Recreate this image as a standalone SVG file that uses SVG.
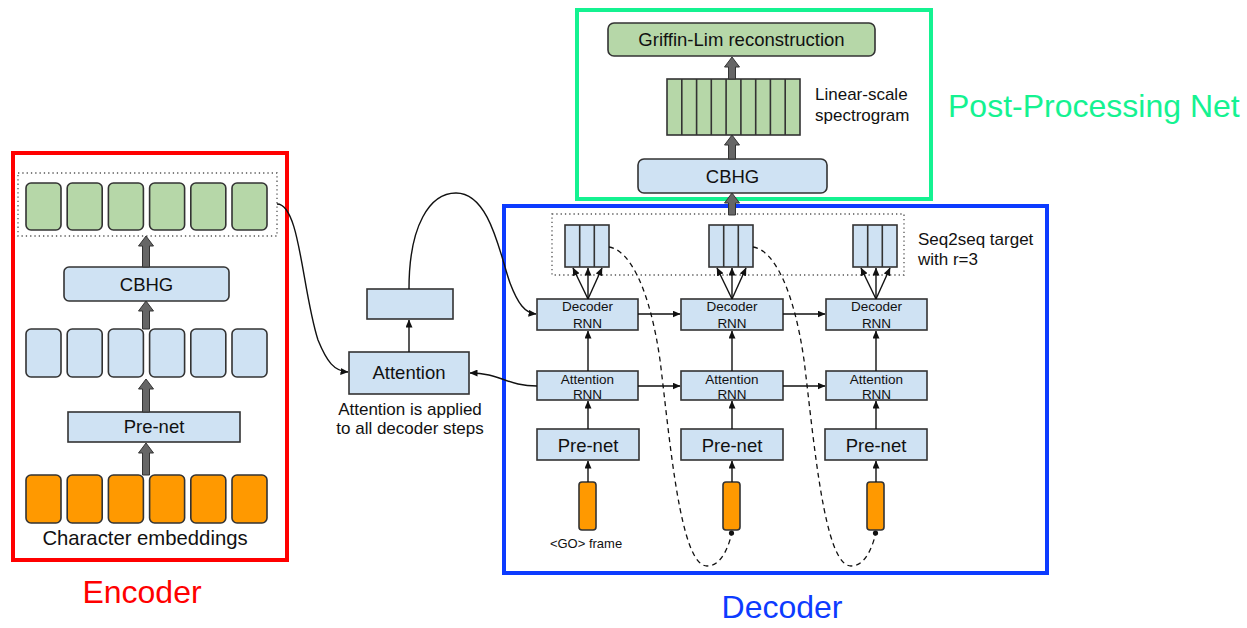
<svg xmlns="http://www.w3.org/2000/svg" width="1247" height="628" viewBox="0 0 1247 628">
<style>
text{font-family:"Liberation Sans",Arial,sans-serif;fill:#111}
.b{fill:#cfe2f3;stroke:#333;stroke-width:1.6}
.g{fill:#b6d7a8;stroke:#333;stroke-width:1.6}
.o{fill:#ff9900;stroke:#333;stroke-width:1.6}
.dot{fill:none;stroke:#555;stroke-width:1.3;stroke-dasharray:1.3 3}
.thick{fill:#666;stroke:#333;stroke-width:1}
.ln{fill:none;stroke:#111;stroke-width:1.4}
.la{fill:none;stroke:#111;stroke-width:1.4;marker-end:url(#ah)}
.dash{fill:none;stroke:#111;stroke-width:1.3;stroke-dasharray:5 4}
.c{text-anchor:middle}
.s13{font-size:13.5px}
.s17{font-size:17px}
.s18{font-size:18.5px}
.title{font-size:32px}
</style>
<defs>
<marker id="ah" markerWidth="8" markerHeight="7" refX="7.5" refY="3.5" orient="auto" markerUnits="userSpaceOnUse">
<path d="M0,0 L8,3.5 L0,7 z" fill="#111"/>
</marker>
</defs>
<rect width="1247" height="628" fill="#fff"/>

<!-- Encoder -->
<g id="encoder">
<rect x="13" y="153" width="274" height="407" fill="none" stroke="#ff0000" stroke-width="4"/>
<text x="142" y="603" class="c title" style="fill:#ff0000">Encoder</text>
</g>
<g id="enc-outputs">
<rect class="dot" x="18" y="173" width="259" height="63"/>
<rect class="g" x="26" y="183" width="35" height="47" rx="5"/>
<rect class="g" x="67.2" y="183" width="35" height="47" rx="5"/>
<rect class="g" x="108.4" y="183" width="35" height="47" rx="5"/>
<rect class="g" x="149.6" y="183" width="35" height="47" rx="5"/>
<rect class="g" x="190.8" y="183" width="35" height="47" rx="5"/>
<rect class="g" x="232" y="183" width="35" height="47" rx="5"/>
</g>
<g id="enc-cbhg">
<rect class="b" x="64" y="267" width="165" height="34" rx="5"/>
<text x="146.5" y="291" class="c s18">CBHG</text>
</g>
<g id="enc-hidden">
<rect class="b" x="26" y="329" width="35" height="48" rx="5"/>
<rect class="b" x="67.2" y="329" width="35" height="48" rx="5"/>
<rect class="b" x="108.4" y="329" width="35" height="48" rx="5"/>
<rect class="b" x="149.6" y="329" width="35" height="48" rx="5"/>
<rect class="b" x="190.8" y="329" width="35" height="48" rx="5"/>
<rect class="b" x="232" y="329" width="35" height="48" rx="5"/>
</g>
<g id="enc-prenet">
<rect class="b" x="68" y="412" width="172" height="30"/>
<text x="154" y="433" class="c s18">Pre-net</text>
</g>
<g id="enc-embeddings">
<rect class="o" x="26" y="475" width="35" height="48" rx="5"/>
<rect class="o" x="67.2" y="475" width="35" height="48" rx="5"/>
<rect class="o" x="108.4" y="475" width="35" height="48" rx="5"/>
<rect class="o" x="149.6" y="475" width="35" height="48" rx="5"/>
<rect class="o" x="190.8" y="475" width="35" height="48" rx="5"/>
<rect class="o" x="232" y="475" width="35" height="48" rx="5"/>
<text x="145" y="545" class="c" style="font-size:20.3px">Character embeddings</text>
</g>

<!-- Attention -->
<g id="attention">
<rect class="b" x="349" y="352" width="120" height="42"/>
<text x="409" y="379" class="c s18">Attention</text>
<text x="410" y="415" class="c s17">Attention is applied</text>
<text x="410" y="434" class="c s17">to all decoder steps</text>
</g>
<g id="context">
<rect class="b" x="367" y="289" width="86" height="30"/>
</g>

<!-- Post-processing -->
<g id="postnet">
<rect x="577" y="10" width="354" height="189" fill="none" stroke="#14f291" stroke-width="4"/>
<text x="948" y="117" class="title" style="fill:#14f291">Post-Processing Net</text>
</g>
<g id="griffin-lim">
<rect class="g" x="608" y="23" width="267" height="33" rx="6"/>
<text x="741.5" y="46" class="c s18">Griffin-Lim reconstruction</text>
</g>
<g id="spectrogram">
<rect class="g" x="667" y="79" width="133" height="56"/>
<path d="M681.8,79V135M696.6,79V135M711.3,79V135M726.1,79V135M740.9,79V135M755.7,79V135M770.4,79V135M785.2,79V135" stroke="#333" stroke-width="1.6"/>
<text x="815" y="100" class="s17">Linear-scale</text>
<text x="815" y="121" class="s17">spectrogram</text>
</g>
<g id="post-cbhg">
<rect class="b" x="638" y="159" width="189" height="34" rx="6"/>
<text x="732.5" y="183" class="c s18">CBHG</text>
</g>

<!-- Decoder -->
<g id="decoder">
<rect x="504" y="206" width="543" height="367" fill="none" stroke="#0d3bff" stroke-width="4"/>
<text x="782" y="618" class="c title" style="fill:#0d3bff">Decoder</text>
</g>
<g id="targets">
<rect class="dot" x="552" y="214" width="352" height="61"/>
<text x="918" y="245" class="s17">Seq2seq target</text>
<text x="918" y="265" class="s17">with r=3</text>
</g>
<g id="target-1">
<rect class="b" x="565" y="225" width="44" height="42"/>
<path d="M579.7,225V267M594.3,225V267" stroke="#333" stroke-width="1.6"/>
</g>
<g id="target-2">
<rect class="b" x="709" y="225" width="44" height="42"/>
<path d="M723.7,225V267M738.3,225V267" stroke="#333" stroke-width="1.6"/>
</g>
<g id="target-3">
<rect class="b" x="853" y="225" width="44" height="42"/>
<path d="M867.7,225V267M882.3,225V267" stroke="#333" stroke-width="1.6"/>
</g>
<g id="dec-rnn-1">
<rect class="b" x="537" y="299" width="101" height="31"/>
<text x="587.5" y="311" class="c s13">Decoder</text>
<text x="587.5" y="328" class="c s13">RNN</text>
</g>
<g id="dec-rnn-2">
<rect class="b" x="681" y="299" width="102" height="31"/>
<text x="732" y="311" class="c s13">Decoder</text>
<text x="732" y="328" class="c s13">RNN</text>
</g>
<g id="dec-rnn-3">
<rect class="b" x="826" y="299" width="101" height="31"/>
<text x="876.5" y="311" class="c s13">Decoder</text>
<text x="876.5" y="328" class="c s13">RNN</text>
</g>
<g id="att-rnn-1">
<rect class="b" x="537" y="371" width="101" height="29"/>
<text x="587.5" y="383.5" class="c s13">Attention</text>
<text x="587.5" y="399" class="c s13">RNN</text>
</g>
<g id="att-rnn-2">
<rect class="b" x="681" y="371" width="102" height="29"/>
<text x="732" y="383.5" class="c s13">Attention</text>
<text x="732" y="399" class="c s13">RNN</text>
</g>
<g id="att-rnn-3">
<rect class="b" x="826" y="371" width="101" height="29"/>
<text x="876.5" y="383.5" class="c s13">Attention</text>
<text x="876.5" y="399" class="c s13">RNN</text>
</g>
<g id="dec-prenet-1">
<rect class="b" x="537" y="429" width="102" height="31"/>
<text x="588" y="452" class="c s18">Pre-net</text>
</g>
<g id="dec-prenet-2">
<rect class="b" x="681" y="429" width="102" height="31"/>
<text x="732" y="452" class="c s18">Pre-net</text>
</g>
<g id="dec-prenet-3">
<rect class="b" x="825" y="429" width="102" height="31"/>
<text x="876" y="452" class="c s18">Pre-net</text>
</g>
<g id="frame-1">
<rect class="o" x="579" y="482" width="17" height="48" rx="3"/>
<text x="586" y="548" class="c" style="font-size:13px">&lt;GO&gt; frame</text>
</g>
<g id="frame-2">
<rect class="o" x="723" y="482" width="17" height="48" rx="3"/>
</g>
<g id="frame-3">
<rect class="o" x="867" y="482" width="17" height="48" rx="3"/>
</g>

<!-- Connectors -->
<g id="connectors">
<!-- thick arrows encoder -->
<path class="thick" d="M142.5,475V453H138.5L146,443L153.5,453H149.5V475Z"/>
<path class="thick" d="M142.5,412V389H138.5L146,379L153.5,389H149.5V412Z"/>
<path class="thick" d="M142.5,329V311H138.5L146,301L153.5,311H149.5V329Z"/>
<path class="thick" d="M142.5,267V246H138.5L146,236L153.5,246H149.5V267Z"/>
<!-- thick arrows post-net -->
<path class="thick" d="M728.5,215V203H724.5L732,193L739.5,203H735.5V215Z"/>
<path class="thick" d="M728.5,159V145H724.5L732,135L739.5,145H735.5V159Z"/>
<path class="thick" d="M728.5,79V67H724.5L732,57L739.5,67H735.5V79Z"/>
<!-- encoder to attention -->
<path class="la" d="M277,204 C300,204 302,290 318,340 C327,362 334,371 348,372"/>
<!-- attention to context -->
<path class="la" d="M409,352V320"/>
<!-- context to decoder rnn 1 -->
<path class="la" d="M409,289 C409,225 430,193 456,193 C490,193 500,255 510,283 C518,304 525,313 536,314"/>
<!-- attention rnn 1 to attention -->
<path class="la" d="M537,386 C507,386 500,373 470,373"/>
<!-- horizontal arrows -->
<path class="la" d="M638,314H680"/>
<path class="la" d="M783,314H825"/>
<path class="la" d="M638,386H680"/>
<path class="la" d="M783,386H825"/>
<!-- vertical arrows -->
<path class="la" d="M588,371V331"/>
<path class="la" d="M732,371V331"/>
<path class="la" d="M876,371V331"/>
<path class="la" d="M588,429V401"/>
<path class="la" d="M732,429V401"/>
<path class="la" d="M876,429V401"/>
<path class="la" d="M588,482V461"/>
<path class="la" d="M732,482V461"/>
<path class="la" d="M876,482V461"/>
<!-- decoder rnn to targets -->
<path class="la" d="M588,299L573,268"/>
<path class="la" d="M588,299V268"/>
<path class="la" d="M588,299L602,268"/>
<path class="la" d="M732,299L717,268"/>
<path class="la" d="M732,299V268"/>
<path class="la" d="M732,299L746,268"/>
<path class="la" d="M876,299L861,268"/>
<path class="la" d="M876,299V268"/>
<path class="la" d="M876,299L890,268"/>
<!-- feedback dashed -->
<path class="dash" d="M609,247 C630,250 650,290 660,360 C670,440 680,566 707,566 C722,566 729,545 731.5,534"/>
<path class="dash" d="M753,247 C774,250 794,290 804,360 C814,440 824,566 851,566 C866,566 873,545 875.5,534"/>
<circle cx="731.5" cy="533" r="2.6" fill="#111"/>
<circle cx="875.5" cy="533" r="2.6" fill="#111"/>
</g>
</svg>
